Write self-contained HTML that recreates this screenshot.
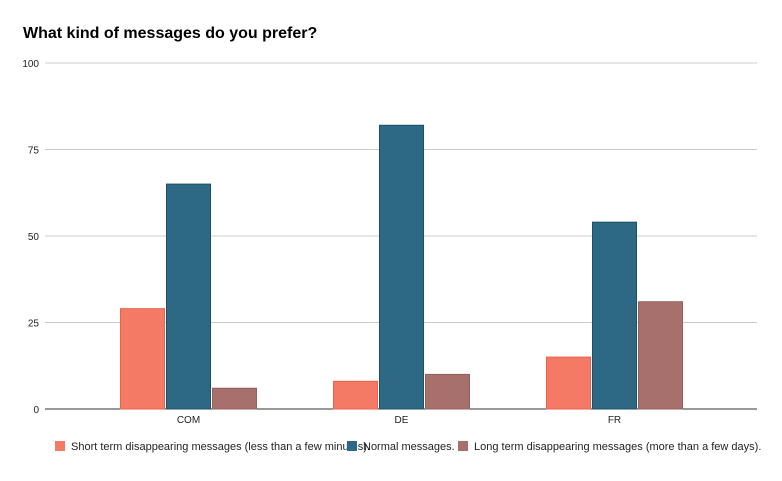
<!DOCTYPE html>
<html><head><meta charset="utf-8"><style>
body{margin:0;background:#fff;font-family:"Liberation Sans",sans-serif}
svg text{font-family:"Liberation Sans",sans-serif}
</style></head><body>
<svg width="782" height="476" id="c">
<text x="23" y="38" font-size="16" font-weight="bold" fill="#000">What kind of messages do you prefer?</text>
<g id="grid"></g><g id="bars"></g><g id="xl"></g>
<g>
<rect x="55" y="441" width="10" height="10" fill="#f47a65"/>
<text x="71" y="450" font-size="11" fill="#222">Short term disappearing messages (less than a few minutes).</text>
<rect x="347" y="441" width="10" height="10" fill="#2d6885"/>
<text x="363" y="450" font-size="11" fill="#222">Normal messages.</text>
<rect x="458" y="441" width="10" height="10" fill="#a8706d"/>
<text x="474" y="450" font-size="11" fill="#222">Long term disappearing messages (more than a few days).</text>
</g>
</svg>
<script>
const categories=["COM","DE","FR"];
const shortTerm=[29,8,15];
const normal=[65,82,54];
const longTerm=[6,10,31];
const ticks=[0,25,50,75,100];
const NS="http://www.w3.org/2000/svg";
const x0=45,x1=757,y0=409,y1=63,bandL=82,bandW=213;
const y=v=>y0-(v/100)*(y0-y1);
const xc=i=>bandL+bandW*(i+0.5);
function mk(t,a,p){const e=document.createElementNS(NS,t);for(const k in a)e.setAttribute(k,a[k]);p.appendChild(e);return e;}
const g=document.getElementById('grid');
ticks.forEach(t=>{
 const l=mk('line',{x1:x0,x2:x1,y1:y(t),y2:y(t),stroke:t===0?'#333':'#ccc','stroke-width':1},g);
 
 
 const tx=mk('text',{x:39,y:y(t)+4,'font-size':10,'text-anchor':'end',fill:'#222'},g);
 tx.textContent=t;
 
 
});
const series=[[shortTerm,'#f47a65','#e8624c','short'],[normal,'#2d6885','#1d4f68','normal'],[longTerm,'#a8706d','#93605d','long']];
const b=document.getElementById('bars'),xl=document.getElementById('xl');
const bw=44,gap=2;
categories.forEach((c,i)=>{
 series.forEach((s,j)=>{
  const bx=xc(i)-(3*bw+2*gap)/2+j*(bw+gap);
  const r=mk('rect',{x:bx,y:y(s[0][i]),width:bw,height:y0-y(s[0][i]),fill:s[1],stroke:s[2],'stroke-width':1},b);
  
  
 });
 const t=mk('text',{x:xc(i),y:423,'font-size':10,'text-anchor':'middle',fill:'#222'},xl);
 t.textContent=c;
 
 
});
</script>
</body></html>
